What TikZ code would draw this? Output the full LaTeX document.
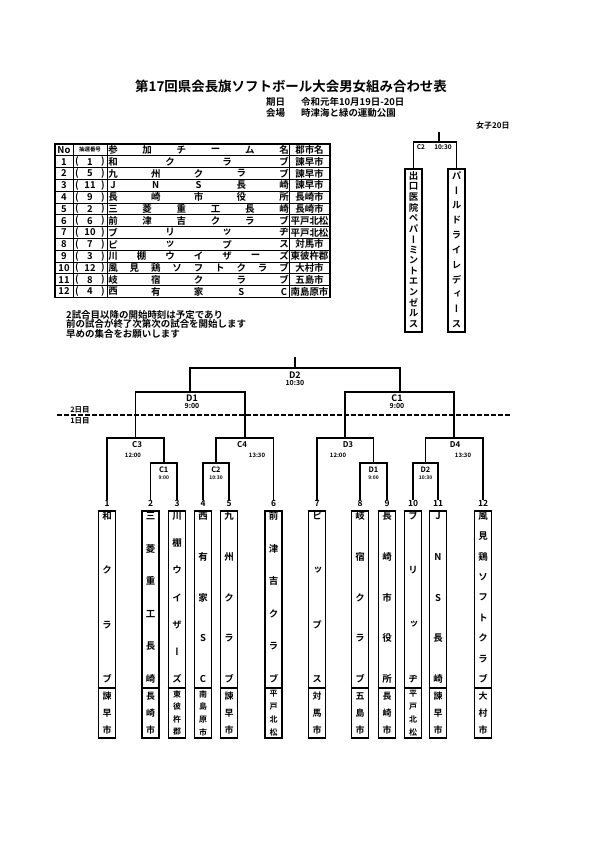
\documentclass[tikz,border=0pt]{standalone}
\usepackage{fontspec}
\setmainfont{Noto Sans CJK JP Bold}
\newfontfamily\vfont{Noto Sans CJK JP Bold}[RawFeature=+vert]
\usetikzlibrary{positioning}

% letters spread down a team column
\newcommand{\vspread}[7][ch]{%
  \foreach \tc [count=\k from 0] in {#7}
    \node[#1] (#2-\k) at ({#3},{#4+(#5-#4)*\k/(#6-1)}) {\tc};}
% letters spread across the team cell of a table row
\newcommand{\tname}[3]{%
  \foreach \tc [count=\k from 0] in {#3}
    \node[cell] (r#1-\k) at ({113+171*\k/(#2-1)},{149.9+11.8*#1}) {\tc};}

\begin{document}
\begin{tikzpicture}[x=1bp, y=-1bp,
    line/.style={line width=1.6bp},
    rule/.style={line width=1bp},
    cell/.style={inner sep=0, font=\fontsize{9.5}{10}\selectfont},
    ch/.style={inner sep=0, font=\vfont\fontsize{9.5}{10}\selectfont},
    city/.style={inner sep=0, font=\fontsize{9}{9}\selectfont},
    city4/.style={inner sep=0, font=\fontsize{8}{8}\selectfont},
    info/.style={inner sep=0, font=\fontsize{9.5}{10}\selectfont},
    teambox/.style={draw, line width=1.6bp, minimum width=17bp, minimum height=227bp,
                    inner sep=0, anchor=north},
    seed/.style={inner sep=0, font=\fontsize{8.5}{9}\selectfont},
    game/.style={inner sep=0, font=\fontsize{9}{9}\selectfont},
    time/.style={inner sep=0, font=\fontsize{6}{6}\selectfont}
  ]
  \useasboundingbox (0,0) rectangle (595,842);

  % Heading
  \node[font=\fontsize{13.5}{14}\selectfont] (title) at (291,86)
    {第17回県会長旗ソフトボール大会男女組み合わせ表};
  \node[info, anchor=west] (datekey) at (266,102) {期日};
  \node[info, anchor=west] (date) at (301,102) {令和元年10月19日-20日};
  \node[info, anchor=west] (placekey) at (266,113) {会場};
  \node[info, anchor=west] (place) at (301,113) {時津海と緑の運動公園};
  \node[info, anchor=west, font=\fontsize{8}{8}\selectfont] (women) at (476,125) {女子20日};

  % Entry table
  \foreach \r in {0,...,13}
    \draw[rule] (55,{144+11.8*\r}) -- (330,{144+11.8*\r});
  \foreach \x in {55,73,107,289,330}
    \draw[rule] (\x,144) -- (\x,297.4);
  \draw[line] (55,144) rectangle (330,297.4);
  \node[cell] (hno) at (64,149.9) {No};
  \node[cell, font=\fontsize{5.5}{6}\selectfont] (hlot) at (90,149.9) {抽選番号};
  \tname{0}{6}{参,加,チ,ー,ム,名}
  \node[cell] (hcty) at (309.5,149.9) {郡市名};
  \foreach \i/\lot/\cty in {1/1/諫早市, 2/5/諫早市, 3/11/諫早市, 4/9/長崎市,
      5/2/長崎市, 6/6/平戸北松, 7/10/平戸北松, 8/7/対馬市, 9/3/東彼杵郡,
      10/12/大村市, 11/8/五島市, 12/4/南島原市}{
    \node[cell] (no\i) at (64,{149.9+11.8*\i}) {\i};
    \node[cell] (lp\i) at (77,{149.9+11.8*\i}) {(};
    \node[cell] (lot\i) at (90,{149.9+11.8*\i}) {\lot};
    \node[cell] (rp\i) at (103,{149.9+11.8*\i}) {)};
    \node[cell] (cty\i) at (309.5,{149.9+11.8*\i}) {\cty};
  }
  \tname{1}{4}{和,ク,ラ,ブ}
  \tname{2}{5}{九,州,ク,ラ,ブ}
  \tname{3}{5}{J,N,S,長,崎}
  \tname{4}{5}{長,崎,市,役,所}
  \tname{5}{6}{三,菱,重,工,長,崎}
  \tname{6}{6}{前,津,吉,ク,ラ,ブ}
  \tname{7}{4}{ブ,リ,ッ,ヂ}
  \tname{8}{4}{ピ,ッ,プ,ス}
  \tname{9}{7}{川,棚,ウ,イ,ザ,ー,ズ}
  \tname{10}{9}{風,見,鶏,ソ,フ,ト,ク,ラ,ブ}
  \tname{11}{5}{岐,宿,ク,ラ,ブ}
  \tname{12}{5}{西,有,家,S,C}

  % Notes
  \node[info, anchor=north west, align=left, font=\fontsize{9.5}{9.6}\selectfont] (notes) at (66,310)
    {2試合目以降の開始時刻は予定であり\\前の試合が終了次第次の試合を開始します\\早めの集合をお願いします};

  % Women
  \node[teambox, minimum height=163bp] (w1) at (413.5,168) {};
  \node[teambox, minimum height=163bp] (w2) at (456.5,168) {};
  \vspread{wt1}{413.5}{176}{324}{15}{出,口,医,院,ペ,パ,ー,ミ,ン,ト,エ,ン,ゼ,ル,ス}
  \vspread{wt2}{456.5}{176}{324}{11}{パ,ー,ル,ド,ラ,イ,レ,デ,ィ,ー,ス}
  \coordinate (g-wc2) at (435,142);
  \coordinate (wtop) at (439,132);
  \draw[line] (w1) |- (g-wc2) -| (w2);
  \draw[line] (wtop) -- (wtop |- g-wc2);
  \node[time, font=\fontsize{6.5}{7}\selectfont] (l-wc2) at (421,147.5) {C2};
  \node[time, font=\fontsize{6.5}{7}\selectfont] (t-wc2) at (443,147.5) {10:30};

  % Men: team columns
  \coordinate (cut) at (0,688);
  \foreach \i/\x in {1/107, 2/150.5, 3/177, 4/203, 5/229, 6/273.5,
      7/317, 8/360, 9/387, 10/413, 11/438, 12/483}{
    \node[teambox] (b\i) at (\x,510) {};
    \node[seed] (n\i) at (\x,503.5) {\i};
    \draw[line] (b\i.west |- cut) -- (b\i.east |- cut);
  }
  \vspread{t1}{107}{516}{679}{4}{和,ク,ラ,ブ}
  \vspread{t2}{150.5}{516}{679}{6}{三,菱,重,工,長,崎}
  \vspread{t3}{177}{516}{679}{7}{川,棚,ウ,イ,ザ,ー,ズ}
  \vspread{t4}{203}{516}{679}{5}{西,有,家,S,C}
  \vspread{t5}{229}{516}{679}{5}{九,州,ク,ラ,ブ}
  \vspread{t6}{273.5}{516}{679}{6}{前,津,吉,ク,ラ,ブ}
  \vspread{t7}{317}{516}{679}{4}{ピ,ッ,プ,ス}
  \vspread{t8}{360}{516}{679}{5}{岐,宿,ク,ラ,ブ}
  \vspread{t9}{387}{516}{679}{5}{長,崎,市,役,所}
  \vspread{t10}{413}{516}{679}{4}{ブ,リ,ッ,ヂ}
  \vspread{t11}{438}{516}{679}{5}{J,N,S,長,崎}
  \vspread{t12}{483}{516}{679}{9}{風,見,鶏,ソ,フ,ト,ク,ラ,ブ}
  \vspread[city]{c1}{107}{696}{730}{3}{諫,早,市}
  \vspread[city]{c2}{150.5}{696}{730}{3}{長,崎,市}
  \vspread[city4]{c3}{177}{694}{732}{4}{東,彼,杵,郡}
  \vspread[city4]{c4}{203}{694}{732}{4}{南,島,原,市}
  \vspread[city]{c5}{229}{696}{730}{3}{諫,早,市}
  \vspread[city4]{c6}{273.5}{694}{732}{4}{平,戸,北,松}
  \vspread[city]{c7}{317}{696}{730}{3}{対,馬,市}
  \vspread[city]{c8}{360}{696}{730}{3}{五,島,市}
  \vspread[city]{c9}{387}{696}{730}{3}{長,崎,市}
  \vspread[city4]{c10}{413}{694}{732}{4}{平,戸,北,松}
  \vspread[city]{c11}{438}{696}{730}{3}{諫,早,市}
  \vspread[city]{c12}{483}{696}{730}{3}{大,村,市}

  % Men: first day
  \coordinate (g-c1) at (163.75,463);
  \coordinate (g-c2) at (216,463);
  \coordinate (g-d1) at (373.5,463);
  \coordinate (g-d2) at (425.5,463);
  \draw[line] (n2) |- (g-c1) -| (n3);
  \draw[line] (n4) |- (g-c2) -| (n5);
  \draw[line] (n8) |- (g-d1) -| (n9);
  \draw[line] (n10) |- (g-d2) -| (n11);
  \coordinate (g-c3) at (135.4,438);
  \coordinate (g-c4) at (244.75,438);
  \coordinate (g-d3) at (345.25,438);
  \coordinate (g-d4) at (454.25,438);
  \draw[line] (n1) |- (g-c3) -| (g-c1);
  \draw[line] (g-c2) |- (g-c4) -| (n6);
  \draw[line] (n7) |- (g-d3) -| (g-d1);
  \draw[line] (g-d2) |- (g-d4) -| (n12);

  % Men: second day
  \coordinate (g-sd1) at (190.1,392);
  \coordinate (g-sc1) at (399.75,392);
  \coordinate (g-fd2) at (294.9,368);
  \coordinate (top) at (294.9,357);
  \draw[line] (g-c3) |- (g-sd1) -| (g-c4);
  \draw[line] (g-d3) |- (g-sc1) -| (g-d4);
  \draw[line] (g-sd1) |- (g-fd2) -| (g-sc1);
  \draw[line] (g-fd2) -- (top);

  % Game labels
  \node[game] (l-fd2) at (294.9,375) {D2};
  \node[time, font=\fontsize{7}{7}\selectfont, below=2bp of l-fd2] (t-fd2) {10:30};
  \node[game] (l-sd1) at (192,398) {D1};
  \node[time, font=\fontsize{7}{7}\selectfont, below=2bp of l-sd1] (t-sd1) {9:00};
  \node[game] (l-sc1) at (397,398) {C1};
  \node[time, font=\fontsize{7}{7}\selectfont, below=2bp of l-sc1] (t-sc1) {9:00};
  \node[game, font=\fontsize{8}{8}\selectfont] (l-c3) at (137,445) {C3};
  \node[time] (t-c3) at (133,455) {12:00};
  \node[game, font=\fontsize{8}{8}\selectfont] (l-c4) at (242,445) {C4};
  \node[time] (t-c4) at (257,455) {13:30};
  \node[game, font=\fontsize{8}{8}\selectfont] (l-d3) at (348,445) {D3};
  \node[time] (t-d3) at (338,455) {12:00};
  \node[game, font=\fontsize{8}{8}\selectfont] (l-d4) at (455,445) {D4};
  \node[time] (t-d4) at (463,455) {13:30};
  \node[game, font=\fontsize{7.5}{8}\selectfont] (l-c1) at (163.75,470) {C1};
  \node[time, font=\fontsize{5}{5}\selectfont, below=2.5bp of l-c1] (t-c1) {9:00};
  \node[game, font=\fontsize{7.5}{8}\selectfont] (l-c2) at (216,470) {C2};
  \node[time, font=\fontsize{5}{5}\selectfont, below=2.5bp of l-c2] (t-c2) {10:30};
  \node[game, font=\fontsize{7.5}{8}\selectfont] (l-d1) at (373.5,470) {D1};
  \node[time, font=\fontsize{5}{5}\selectfont, below=2.5bp of l-d1] (t-d1) {9:00};
  \node[game, font=\fontsize{7.5}{8}\selectfont] (l-d2) at (425.5,470) {D2};
  \node[time, font=\fontsize{5}{5}\selectfont, below=2.5bp of l-d2] (t-d2) {10:30};

  % Day split
  \coordinate (dayL) at (57,415);
  \coordinate (dayR) at (512,415);
  \draw[line, dash pattern=on 4.5bp off 2.5bp] (dayL) -- (dayR);
  \node[game, font=\fontsize{7.5}{8}\selectfont] (day2) at (80,409.5) {2日目};
  \node[game, font=\fontsize{7.5}{8}\selectfont] (day1) at (80,420.5) {1日目};
\end{tikzpicture}
\end{document}
